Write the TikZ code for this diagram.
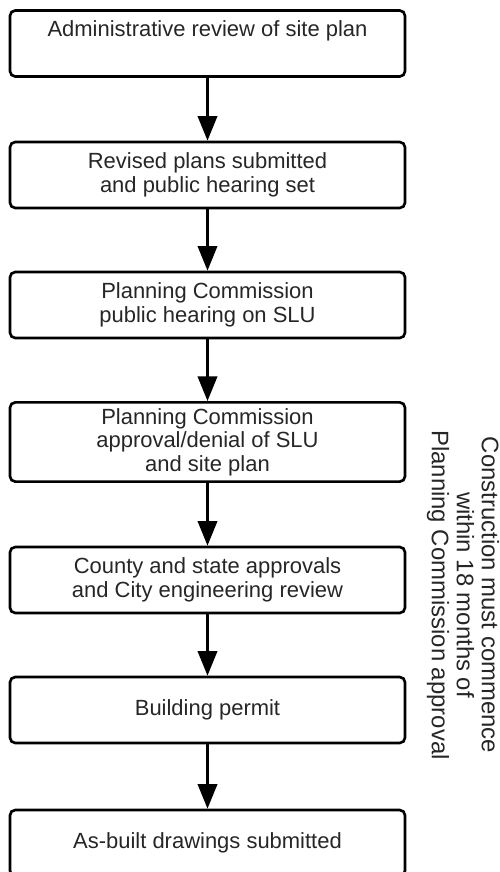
\documentclass[tikz,border=0pt]{standalone}
\usepackage{fontspec}
\setmainfont{Liberation Sans}
\usetikzlibrary{arrows.meta}

\begin{document}
\begin{tikzpicture}[
    stepbox/.style={draw, line width=1.5pt, rounded corners=3pt, minimum width=7.9cm,
        minimum height=1.32cm, align=center, text=black!85,
        font=\fontsize{12.5}{13.4}\selectfont},
    flow/.style={line width=1.5pt, -{Triangle[length=14pt,width=11pt]}}
]
    \useasboundingbox (0,0) rectangle (10,-17.44);
    \node[stepbox] (review) at (4.15,-0.87) {Administrative review of site plan\\ \strut};
    \node[stepbox] (revised) at (4.15,-3.5) {Revised plans submitted\\and public hearing set};
    \node[stepbox] (hearing) at (4.15,-6.1) {Planning Commission\\public hearing on SLU};
    \node[stepbox, minimum height=1.56cm] (approval) at (4.15,-8.84) {Planning Commission\\approval/denial of SLU\\and site plan};
    \node[stepbox] (county) at (4.15,-11.6) {County and state approvals\\and City engineering review};
    \node[stepbox] (permit) at (4.15,-14.2) {Building permit};
    \node[stepbox] (asbuilt) at (4.15,-16.86) {As-built drawings submitted};
    \draw[flow] (review) -- (revised);
    \draw[flow] (revised) -- (hearing);
    \draw[flow] (hearing) -- (approval);
    \draw[flow] (approval) -- (county);
    \draw[flow] (county) -- (permit);
    \draw[flow] (permit) -- (asbuilt);
    \node[rotate=-90, align=center, text=black!85, font=\fontsize{13.6}{14.2}\selectfont] (deadline) at (9.26,-11.9)
        {Construction must commence\\within 18 months of\\Planning Commission approval};
\end{tikzpicture}
\end{document}
